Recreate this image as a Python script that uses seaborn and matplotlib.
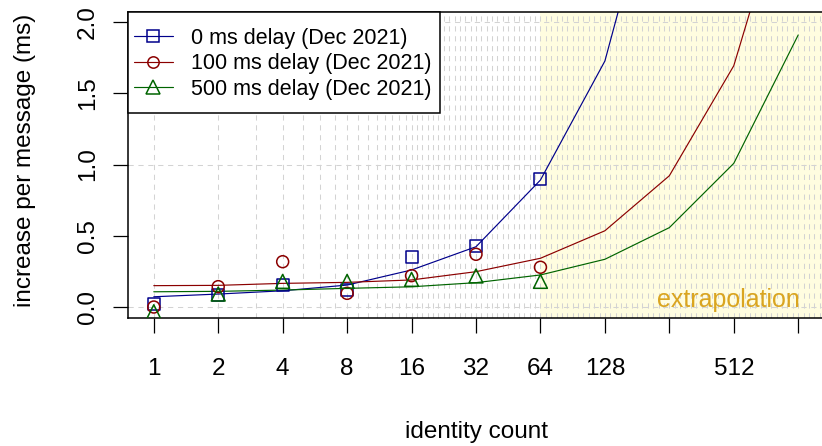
import numpy as np
import pandas as pd
import matplotlib
matplotlib.use("Agg")
import matplotlib.pyplot as plt
import seaborn as sns
from matplotlib.ticker import FixedLocator, NullLocator, FixedFormatter
from matplotlib.lines import Line2D
from matplotlib.patches import Rectangle

# ---- data ----
identity_counts = [1, 2, 4, 8, 16, 32, 64]
delay0_measured = [0.02, 0.084, 0.154, 0.119, 0.349, 0.428, 0.896]
delay100_measured = [0.0, 0.143, 0.318, 0.096, 0.22, 0.37, 0.279]
delay500_measured = [-0.033, 0.091, 0.18, 0.18, 0.194, 0.218, 0.18]

fit_counts = [1, 2, 4, 8, 16, 32, 64, 128, 256, 512, 1024]
delay0_fit = [0.072, 0.091, 0.114, 0.154, 0.26, 0.423, 0.891, 1.726, 3.4, 6.7, 13.3]
delay100_fit = [0.150, 0.152, 0.166, 0.173, 0.19, 0.248, 0.342, 0.535, 0.921, 1.693, 3.2]
delay500_fit = [0.107, 0.11, 0.119, 0.131, 0.142, 0.171, 0.225, 0.335, 0.557, 1.008, 1.909]

series_labels = ["0 ms delay (Dec 2021)", "100 ms delay (Dec 2021)", "500 ms delay (Dec 2021)"]
x_ticks = [1, 2, 4, 8, 16, 32, 64, 128, 256, 512, 1024]
x_ticklabels = ["1", "2", "4", "8", "16", "32", "64", "128", "", "512", ""]
y_ticks = [0.0, 0.5, 1.0, 1.5, 2.0]
y_ticklabels = ["0.0", "0.5", "1.0", "1.5", "2.0"]
extrapolation_start = 64

colors = ["#00008B", "#8B0000", "#006400"]
markers = ["s", "o", "^"]
msizes = [8.6, 8.6, 10.0]

sns.set_style("white")
plt.rcParams["font.family"] = ["Liberation Sans", "DejaVu Sans"]
plt.rcParams["text.color"] = "black"
plt.rcParams["axes.labelcolor"] = "black"

W, H = 822, 446
fig = plt.figure(figsize=(W / 100, H / 100), dpi=100)
L, R, T, B = 128, 824, 12, 318
ax = fig.add_axes([L / W, 1 - B / H, (R - L) / W, (B - T) / H])

ax.set_xscale("log", base=2)
ax.set_xlim(2 ** -0.40, 2 ** 10.40)
ax.set_ylim(-0.077, 2.07)

# extrapolation region
ax.axvspan(extrapolation_start, 2 ** 12, color="#FFFDE0", zorder=0, lw=0)

# grid
grid_kw = dict(color="#D3D3D3", lw=0.75, ls=(0, (5, 4.5)), zorder=0.5)
vgrid = list(range(1, 17)) + [16 * 2 ** (k / 12) for k in range(1, 80)]
for v in vgrid:
    ax.axvline(v, **grid_kw)
for h in [0.0, 1.0, 2.0]:
    ax.axhline(h, **grid_kw)

meas = [delay0_measured, delay100_measured, delay500_measured]
fits = [delay0_fit, delay100_fit, delay500_fit]
for i in range(3):
    df_fit = pd.DataFrame({"x": fit_counts, "y": fits[i]})
    sns.lineplot(data=df_fit, x="x", y="y", color=colors[i], lw=0.85,
                 estimator=None, sort=False, ax=ax, zorder=2)
    df_m = pd.DataFrame({"x": identity_counts, "y": meas[i]})
    sns.scatterplot(data=df_m, x="x", y="y", marker=markers[i], s=msizes[i] ** 2,
                    color=colors[i], facecolor="none", edgecolor=colors[i],
                    linewidth=1.1, ax=ax, zorder=3)

ax.text(2 ** 10.03, 0.002, "extrapolation", ha="right", va="baseline",
        fontsize=18, color="#DAA520", zorder=3)

# axes styling
ax.xaxis.set_major_locator(FixedLocator(x_ticks))
ax.xaxis.set_major_formatter(FixedFormatter(x_ticklabels))
ax.xaxis.set_minor_locator(NullLocator())
ax.yaxis.set_major_locator(FixedLocator(y_ticks))
ax.yaxis.set_major_formatter(FixedFormatter(y_ticklabels))
ax.yaxis.set_minor_locator(NullLocator())
ax.tick_params(axis="x", direction="out", length=11, width=0.9, pad=18,
               labelsize=17.5, colors="black", bottom=True)
ax.tick_params(axis="y", direction="out", length=11, width=0.9, pad=10,
               labelsize=17.5, colors="black", left=True)
for lab in ax.get_yticklabels():
    lab.set_rotation(90)
    lab.set_va("center")
for s in ax.spines.values():
    s.set_visible(True)
    s.set_color("black")
    s.set_linewidth(1.1)
ax.set_xlabel("")
ax.set_ylabel("")
ax.grid(False)

fig.text(25 / W, 1 - 160 / H, "increase per message (ms)", rotation=90,
         ha="center", va="center", fontsize=17.5, color="black")
fig.text(476 / W, 1 - 432 / H, "identity count", ha="center", va="center",
         fontsize=17.5, color="black")

# legend
rect = Rectangle((0, 1 - (113 - T) / (B - T)), (440 - L) / (R - L), (113 - T) / (B - T),
                 transform=ax.transAxes, facecolor="white", edgecolor="black",
                 lw=1.1, zorder=4, clip_on=False)
ax.add_patch(rect)
handles = [Line2D([], [], color=colors[i], lw=0.85, marker=markers[i],
                  markersize=msizes[i] * 0.95, mfc="none", mec=colors[i], mew=1.1)
           for i in range(3)]
leg = ax.legend(handles, series_labels, loc="upper left",
                bbox_to_anchor=(134 / W, 1 - 28 / H), bbox_transform=fig.transFigure,
                frameon=False, fontsize=15.5, borderpad=0, borderaxespad=0,
                handlelength=1.8, handletextpad=0.85, labelspacing=0.2)
leg.set_zorder(5)
for t in leg.get_texts():
    t.set_color("black")

fig.savefig("out.png", dpi=100)
